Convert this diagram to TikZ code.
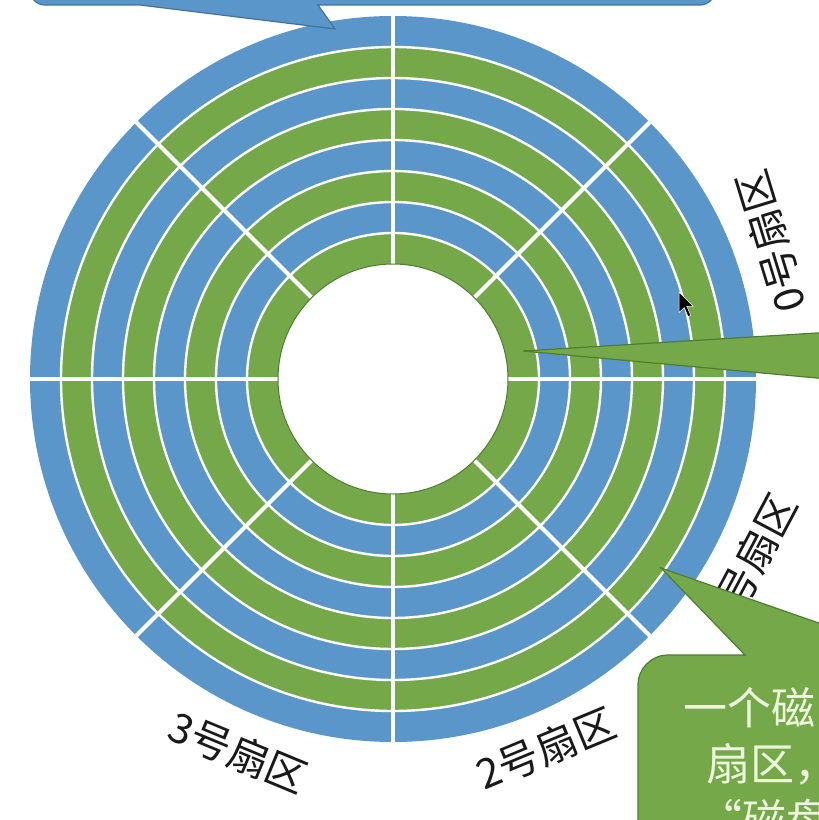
\documentclass[tikz,border=0pt]{standalone}
\usepackage{fontspec}
\newfontfamily\cjk{Noto Sans CJK SC}
\definecolor{ringblue}{RGB}{91,150,202}
\definecolor{ringgreen}{RGB}{116,168,72}
\definecolor{blueline}{RGB}{65,113,156}
\definecolor{greenline}{RGB}{80,125,50}
\definecolor{calltext}{RGB}{238,245,222}
\tikzset{
  sectorlabel/.style={font=\cjk\fontsize{41}{43}\selectfont, text=black!90, inner sep=0pt},
  calloutblue/.style={fill=ringblue, draw=blueline, line width=1.2pt},
  calloutgreen/.style={fill=ringgreen, draw=greenline, line width=1.2pt},
  callouttext/.style={font=\cjk\fontsize{44}{50}\selectfont, text=calltext, inner sep=0pt, anchor=base west},
  ringsep/.style={draw=white, line width=2.4pt},
  spoke/.style={draw=white, line width=4pt}
}
\begin{document}
\begin{tikzpicture}[x=1pt,y=1pt]
\useasboundingbox (-393,-441) rectangle (426,379);
\clip (-393,-441) rectangle (426,379);
\fill[white] (-393,-441) rectangle (426,379);
% rings of the disk
\foreach \r/\c in {363/ringblue,332/ringgreen,301/ringblue,270/ringgreen,239/ringblue,208/ringgreen,177/ringblue,146/ringgreen}
  {\fill[\c] (0,0) circle[radius=\r];}
\foreach \r in {332,301,270,239,208,177,146}
  {\draw[ringsep] (0,0) circle[radius=\r];}
\foreach \a in {0,45,...,315}
  {\draw[spoke] (\a:115) -- (\a:363);}
\fill[white, draw=greenline, line width=1pt] (0,0) circle[radius=115];
% sector labels
\node[sectorlabel, rotate=107] (s0) at (20:402) {0号扇区};
\node[sectorlabel, rotate=62] (s1) at (-27:402) {1号扇区};
\node[sectorlabel, rotate=22.5] (s2) at (-67.5:400) {2号扇区};
\node[sectorlabel, rotate=-22.5] (s3) at (-112.5:404) {3号扇区};
% mouse cursor
\fill[black, draw=white, line width=0.5pt] (286,87) -- ++(0,-20.8) -- ++(5.2,5.2) -- ++(3.9,-9.1) -- ++(2.6,1.3) -- ++(-3.9,9.1) -- ++(6.5,0) -- cycle;
% top callout (blue)
\draw[calloutblue] (-363,430) -- (-363,389) arc[start angle=180, end angle=270, radius=15]
  -- (-253,374) -- (-58,350) -- (-75,374) -- (307,374) arc[start angle=270, end angle=360, radius=15]
  -- (322,430) -- cycle;
% right callout (green)
\draw[calloutgreen] (130,28) -- (440,47) -- (440,-0.5) -- cycle;
% bottom-right callout (green)
\draw[calloutgreen] (245,-470) -- (245,-306) arc[start angle=180, end angle=90, radius=30]
  -- (352,-276) -- (268,-189) -- (460,-256) -- (460,-470) -- cycle;
\node[callouttext] (t1) at (290,-345) {一个磁};
\node[callouttext] (t2) at (313,-401) {扇区，};
\node[callouttext] (t3) at (305,-457) {“磁盘};
\end{tikzpicture}
\end{document}
